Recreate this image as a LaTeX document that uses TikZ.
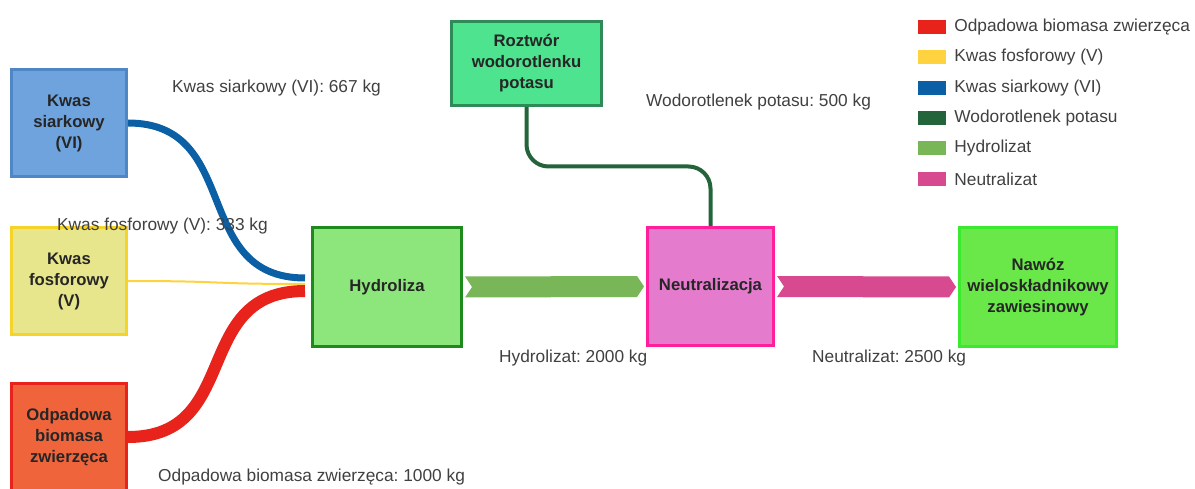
\documentclass[tikz,border=0pt]{standalone}
\usepackage{fontspec}
\setmainfont{Liberation Sans}
\usepackage{tikz}
\usepackage{xcolor}
\usetikzlibrary{positioning, calc}
% box colours
\definecolor{siarkfill}{RGB}{111, 163, 222}
\definecolor{siarkline}{RGB}{79, 134, 198}
\definecolor{fosffill}{RGB}{232, 230, 140}
\definecolor{fosfline}{RGB}{245, 211, 40}
\definecolor{biomfill}{RGB}{240, 100, 60}
\definecolor{biomline}{RGB}{232, 35, 27}
\definecolor{hydrofill}{RGB}{141, 230, 123}
\definecolor{hydroline}{RGB}{30, 138, 30}
\definecolor{kohfill}{RGB}{77, 227, 143}
\definecolor{kohline}{RGB}{46, 139, 87}
\definecolor{neutrfill}{RGB}{228, 123, 205}
\definecolor{neutrline}{RGB}{255, 31, 155}
\definecolor{nawozfill}{RGB}{106, 232, 74}
\definecolor{nawozline}{RGB}{59, 234, 46}
% flow colours
\definecolor{flowred}{RGB}{232, 35, 27}
\definecolor{flowyellow}{RGB}{255, 210, 63}
\definecolor{flowblue}{RGB}{11, 95, 165}
\definecolor{flowkoh}{RGB}{36, 100, 58}
\definecolor{flowhydro}{RGB}{120, 182, 87}
\definecolor{flowneutr}{RGB}{216, 74, 144}
\definecolor{labelgray}{RGB}{64, 64, 64}
\newcommand{\flowfont}{\fontsize{17.3}{20}\selectfont}
\newcommand{\procfont}{\fontsize{16.7}{21}\selectfont\bfseries}
\tikzset{
  proc/.style={draw, line width=3pt, align=center, font=\procfont, text=black!85, inner sep=2pt},
  flowlabel/.style={anchor=west, inner sep=0pt, text=labelgray, font=\flowfont},
  legendkey/.style={minimum width=28pt, minimum height=14pt, inner sep=0pt},
}
\frenchspacing

\begin{document}
\begin{tikzpicture}[x=1pt, y=-1pt]
    \useasboundingbox (0,0) rectangle (1195,489);
    \clip (0,0) rectangle (1195,489);

    % Inputs
    \node[proc, fill=siarkfill, draw=siarkline, minimum width=115pt, minimum height=107pt] (siark) at (69,123) {Kwas\\siarkowy\\(VI)};
    \node[proc, fill=fosffill, draw=fosfline, minimum width=115pt, minimum height=107pt] (fosf) at (69,281) {Kwas\\fosforowy\\(V)};
    \node[proc, fill=biomfill, draw=biomline, minimum width=115pt, minimum height=107pt] (biom) at (69,437) {Odpadowa\\biomasa\\zwierzęca};
    \node[proc, fill=kohfill, draw=kohline, minimum width=150pt, minimum height=84pt] (roztw) at (526.5,63.5) {Roztwór\\wodorotlenku\\potasu};

    % Process steps
    \node[proc, fill=hydrofill, draw=hydroline, minimum width=149pt, minimum height=119pt] (hydro) at (387,287) {Hydroliza};
    \node[proc, fill=neutrfill, draw=neutrline, minimum width=126pt, minimum height=118pt] (neutr) at (710.5,286.5) {Neutralizacja};
    \node[proc, fill=nawozfill, draw=nawozline, minimum width=157pt, minimum height=119pt] (nawoz) at (1038,287) {Nawóz\\wieloskładnikowy\\zawiesinowy};

    % Flows into hydrolysis
    \draw[line width=7pt, flowblue] (siark.east) .. controls +(115,0) and +(-115,0) .. ($(hydro.west)+(-6,-9)$);
    \draw[line width=2pt, flowyellow] (fosf.east) .. controls +(100,0) and +(-100,0) .. ($(hydro.west)+(-6,-3)$);
    \draw[line width=12pt, flowred] (biom.east) .. controls +(115,0) and +(-115,0) .. ($(hydro.west)+(-6,4)$);

    % KOH solution
    \draw[line width=4pt, flowkoh, rounded corners=22pt] (roztw.south) |- ($(roztw.south)!0.5!(neutr.north)$) -| (neutr.north);

    % Hydrolizat and Neutralizat bands
    \fill[flowhydro] ($(hydro.east)+(2,-10.5)$) -- ($(neutr.west)+(-9,-10.5)$) -- ($(neutr.west)+(-2,0)$)
        -- ($(neutr.west)+(-9,10.5)$) -- ($(hydro.east)+(2,10.5)$) -- ($(hydro.east)+(9,0)$) -- cycle;
    \fill[flowneutr] ($(neutr.east)+(2,-10.5)$) -- ($(nawoz.west)+(-9,-10.5)$) -- ($(nawoz.west)+(-2,0)$)
        -- ($(nawoz.west)+(-9,10.5)$) -- ($(neutr.east)+(2,10.5)$) -- ($(neutr.east)+(9,0)$) -- cycle;

    % Labels
    \node[flowlabel] (lsiark) at (172,88) {Kwas siarkowy (VI): 667 kg};
    \node[flowlabel] (lfosf) at (57,226) {Kwas fosforowy (V): 333 kg};
    \node[flowlabel] (lbiom) at (158,477) {Odpadowa biomasa zwierzęca: 1000 kg};
    \node[flowlabel] (lkoh) at (646,102) {Wodorotlenek potasu: 500 kg};
    \node[flowlabel] (lhydro) at (499,358) {Hydrolizat: 2000 kg};
    \node[flowlabel] (lneutr) at (812,358) {Neutralizat: 2500 kg};

    % Legend
    \node[legendkey, fill=flowred] (key1) at (932,27) {};
    \node[legendkey, fill=flowyellow] (key2) at (932,57) {};
    \node[legendkey, fill=flowblue] (key3) at (932,88) {};
    \node[legendkey, fill=flowkoh] (key4) at (932,118) {};
    \node[legendkey, fill=flowhydro] (key5) at (932,148) {};
    \node[legendkey, fill=flowneutr] (key6) at (932,179) {};
    \node[flowlabel, right=8pt of key1] (txt1) {Odpadowa biomasa zwierzęca};
    \node[flowlabel, right=8pt of key2] (txt2) {Kwas fosforowy (V)};
    \node[flowlabel, right=8pt of key3] (txt3) {Kwas siarkowy (VI)};
    \node[flowlabel, right=8pt of key4] (txt4) {Wodorotlenek potasu};
    \node[flowlabel, right=8pt of key5] (txt5) {Hydrolizat};
    \node[flowlabel, right=8pt of key6] (txt6) {Neutralizat};
\end{tikzpicture}
\end{document}
